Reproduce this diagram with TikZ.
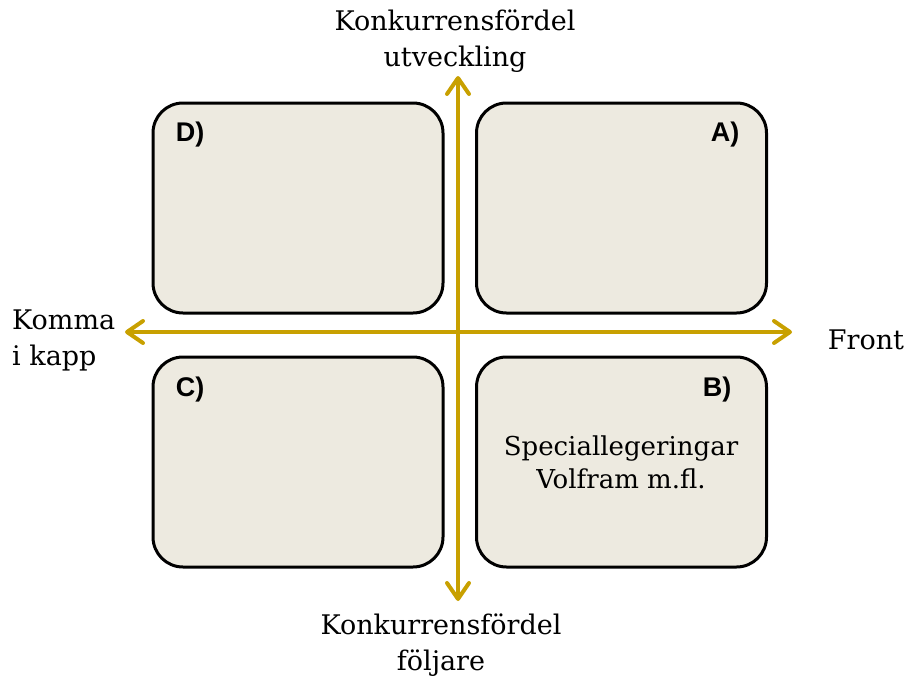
\documentclass[tikz,border=0pt]{standalone}
\usepackage{fontspec}
\setmainfont{DejaVu Serif}
\newfontfamily\labelfont{Liberation Sans}
\usetikzlibrary{arrows.meta}
\definecolor{axisgold}{RGB}{200,160,0}
\definecolor{boxfill}{RGB}{237,234,224}
\tikzset{
  quad/.style={draw=black, line width=3pt, fill=boxfill, rounded corners=30pt,
    minimum width=290pt, minimum height=210pt, inner sep=0pt},
  barb/.tip={Straight Barb[length=16pt,width=22pt,line cap=round,line join=round]},
  axis/.style={draw=axisgold, line width=4pt, barb-barb},
  corner/.style={font=\labelfont\bfseries\fontsize{27}{30}\selectfont, inner sep=0pt},
  axislabel/.style={font=\fontsize{27}{36}\selectfont, inner sep=0pt},
  boxtext/.style={font=\fontsize{26}{33}\selectfont, inner sep=0pt}
}
\begin{document}
\begin{tikzpicture}[x=1pt,y=-1pt]
  \useasboundingbox (0,0) rectangle (909,680);
  % quadrant boxes
  \node[quad] (boxD) at (298,208) {};
  \node[quad] (boxA) at (621.5,208) {};
  \node[quad] (boxC) at (298,462) {};
  \node[quad] (boxB) at (621.5,462) {};
  % axis end points
  \coordinate (top) at (458,76);
  \coordinate (bottom) at (458,601);
  \coordinate (left) at (125,332);
  \coordinate (right) at (792,332);
  \draw[axis] (bottom) -- (top);
  \draw[axis] (left) -- (right);
  % quadrant letters
  \node[corner] (lD) at (190,135) {D)};
  \node[corner] (lA) at (725,135) {A)};
  \node[corner] (lC) at (190,390) {C)};
  \node[corner] (lB) at (717,390) {B)};
  \node[boxtext, align=center] (spec) at (621,462) {Speciallegeringar\\Volfram m.fl.};
  % axis captions
  \node[axislabel, align=center] (capTop) at (455,41) {Konkurrensfördel\\utveckling};
  \node[axislabel, align=center] (capBottom) at (441,645) {Konkurrensfördel\\följare};
  \node[axislabel, align=left, anchor=west] (capLeft) at (12,340) {Komma\\i kapp};
  \node[axislabel] (capRight) at (866,340) {Front};
\end{tikzpicture}
\end{document}
